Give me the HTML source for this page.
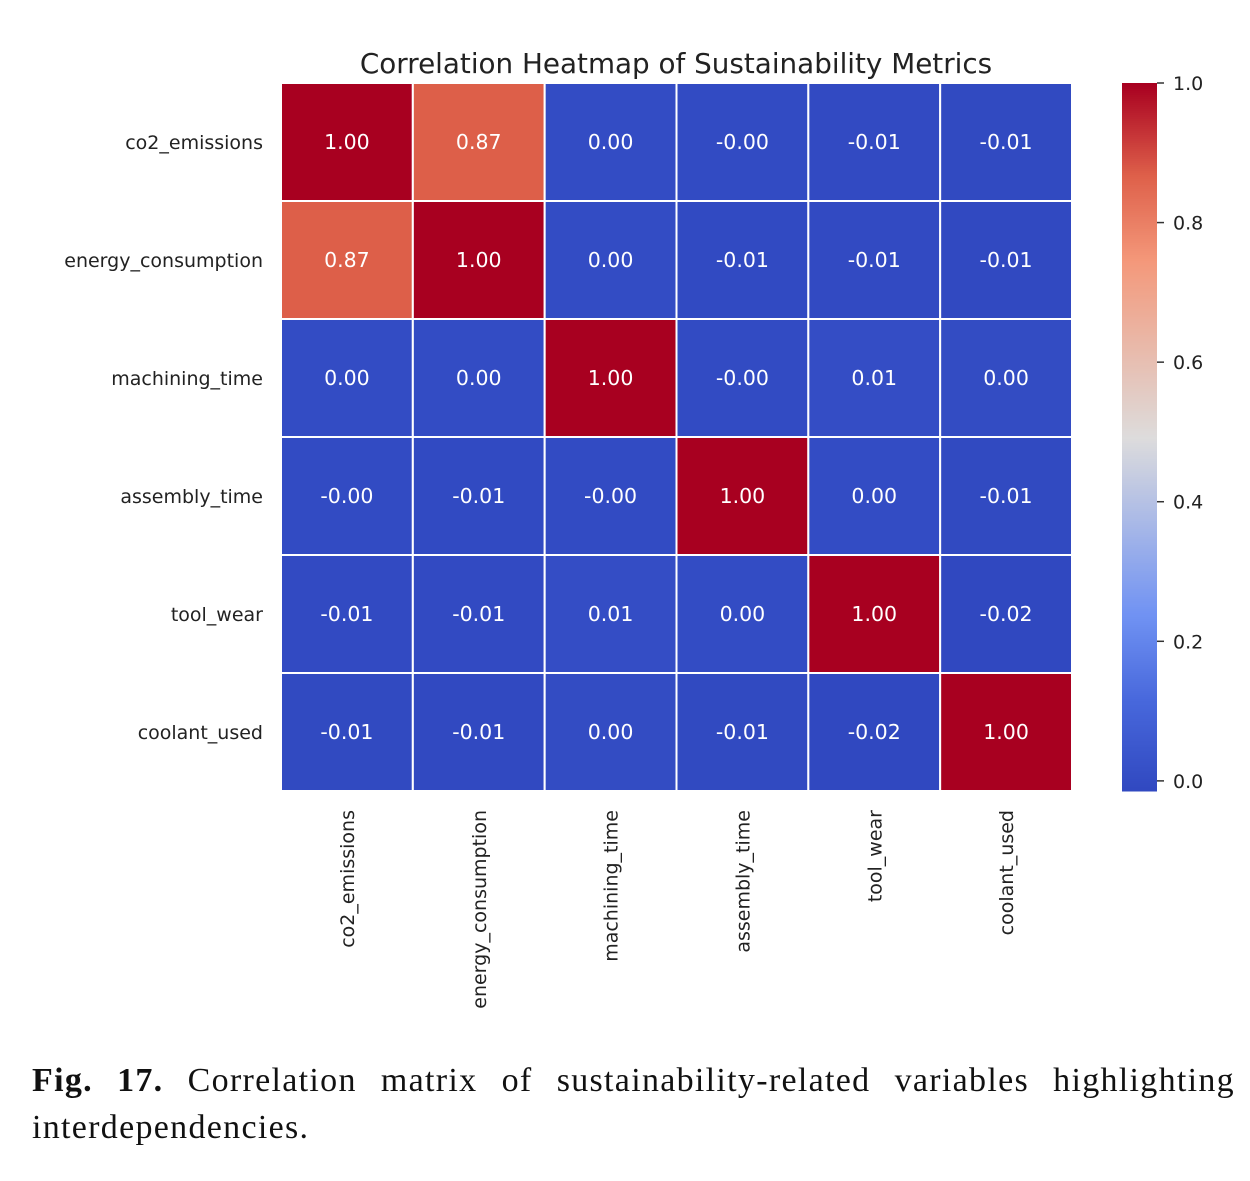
<!DOCTYPE html>
<html><head><meta charset="utf-8"><style>
body{margin:0;background:#fff;width:1250px;height:1181px;overflow:hidden;position:relative}
#cap{position:absolute;left:32px;top:1057px;width:1203px;font-family:"Liberation Serif",serif;font-size:34px;letter-spacing:1.3px;line-height:47px;text-align:justify;text-align-last:left;color:#111}
</style></head><body>
<svg id="chart" width="1250" height="1050" style="position:absolute;left:0;top:0" font-family="DejaVu Sans, sans-serif"></svg>
<div id="cap"><b>Fig. 17.</b> Correlation matrix of sustainability-related variables highlighting interdependencies.</div>
<script>
const labels=["co2_emissions","energy_consumption","machining_time","assembly_time","tool_wear","coolant_used"];
const values=[
["1.00","0.87","0.00","-0.00","-0.01","-0.01"],
["0.87","1.00","0.00","-0.01","-0.01","-0.01"],
["0.00","0.00","1.00","-0.00","0.01","0.00"],
["-0.00","-0.01","-0.00","1.00","0.00","-0.01"],
["-0.01","-0.01","0.01","0.00","1.00","-0.02"],
["-0.01","-0.01","0.00","-0.01","-0.02","1.00"]];
const rawVals=[
[1,0.87,0.003,-0.002,-0.006,-0.008],
[0.87,1,0.004,-0.007,-0.006,-0.009],
[0.003,0.004,1,-0.002,0.008,0.001],
[-0.002,-0.007,-0.002,1,0.002,-0.008],
[-0.006,-0.006,0.008,0.002,1,-0.015],
[-0.008,-0.009,0.001,-0.008,-0.015,1]];
const cbTicks=[0,0.2,0.4,0.6,0.8,1.0];
const svg=document.getElementById('chart');const NS='http://www.w3.org/2000/svg';
function mk(t,a,p){const e=document.createElementNS(NS,t);for(const k in a)e.setAttribute(k,a[k]);(p||svg).appendChild(e);return e;}
const vmin=-0.0145,vmax=1.0;
const stops=[[0,[48,72,192]],[0.13,[72,104,220]],[0.25,[112,146,243]],[0.5,[221,220,220]],[0.75,[244,152,122]],[0.87,[222,96,74]],[1,[168,0,32]]];
function cmap(v){let t=(v-vmin)/(vmax-vmin);t=Math.max(0,Math.min(1,t));
for(let i=1;i<stops.length;i++){if(t<=stops[i][0]){const a=stops[i-1],b=stops[i],f=(t-a[0])/(b[0]-a[0]);return 'rgb('+a[1].map((c,j)=>Math.round(c+(b[1][j]-c)*f)).join(',')+')';}}return 'rgb(168,0,32)';}
const X0=281,Y0=83,CW=(1072-281)/6,CH=(791-83)/6;
const xs=i=>X0+i*CW, ys=i=>Y0+i*CH;
const t=mk('text',{x:676,y:73,'text-anchor':'middle','font-size':27.8,fill:'#222'});t.textContent='Correlation Heatmap of Sustainability Metrics';


values.forEach((row,r)=>row.forEach((v,c)=>{
const rc=mk('rect',{x:xs(c),y:ys(r),width:CW,height:CH,fill:cmap(rawVals[r][c]),stroke:'#fff','stroke-width':2});


const tx=mk('text',{x:xs(c)+CW/2,y:ys(r)+CH/2+7,'text-anchor':'middle','font-size':20.5,fill:'#fff'});tx.textContent=v;


}));
labels.forEach((l,i)=>{
const a=mk('text',{x:263,y:ys(i)+CH/2+7,'text-anchor':'end','font-size':19,fill:'#222'});a.textContent=l;


const cx=xs(i)+CW/2+7;
const b=mk('text',{x:cx,y:810,'text-anchor':'end','font-size':19,fill:'#222',transform:'rotate(-90 '+cx+' 810)'});b.textContent=l;


});
const CBX=1122,CBW=35,CBT=83,CBB=791;
const cy=v=>CBB-(v-vmin)/(vmax-vmin)*(CBB-CBT);
const g=mk('g',{});
for(let y=CBT;y<CBB;y+=2){const v=vmin+(CBB-y)/(CBB-CBT)*(vmax-vmin);mk('rect',{x:CBX,y:y,width:CBW,height:2.5,fill:cmap(v)},g);}
cbTicks.forEach(v=>{const y=cy(v);mk('line',{x1:CBX+CBW,x2:CBX+CBW+7,y1:y,y2:y,stroke:'#333','stroke-width':1.5});
const tt=mk('text',{x:CBX+CBW+16,y:y+7,'font-size':19,fill:'#222'});tt.textContent=v.toFixed(1);

});
</script>
</body></html>
